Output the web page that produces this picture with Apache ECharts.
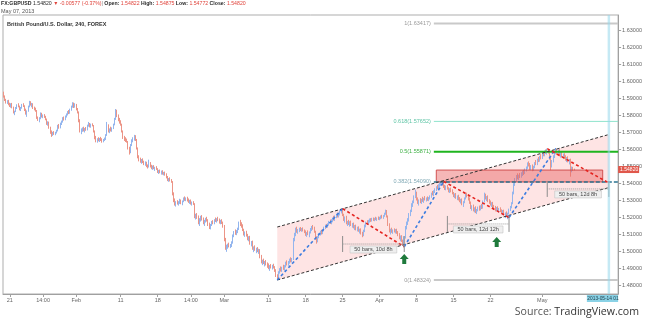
<!DOCTYPE html>
<html>
<head>
<meta charset="utf-8">
<script src="https://cdn.jsdelivr.net/npm/echarts@6/dist/echarts.min.js"></script>
<style>
  html, body { margin: 0; padding: 0; background: #fff; }
  #chart { width: 645px; height: 324px; }
</style>
</head>
<body>
<div id="chart"></div>
<script>
// GBPUSD 4h bars as [open, high, low, close], in 0.0001 steps above 1.0000 (5935 -> 1.5935)
const barsJan18 = [
  [5935,5940,5905,5912],[5912,5918,5885,5890],[5890,5898,5870,5878],[5878,5890,5868,5884],[5884,5892,5860,5866]
];
const barsJan21 = [
  [5866,5875,5850,5858],[5858,5872,5846,5868],[5868,5874,5842,5848],[5848,5852,5812,5818],[5818,5828,5802,5825],[5825,5850,5820,5846],
  [5846,5866,5838,5860],[5860,5872,5848,5852],[5852,5858,5830,5836],[5836,5850,5826,5845],[5845,5868,5840,5864],[5864,5872,5850,5855],
  [5855,5860,5826,5832],[5832,5840,5805,5812],[5812,5830,5792,5826],[5826,5858,5822,5852],[5852,5886,5848,5878],[5878,5884,5858,5864],
  [5864,5874,5848,5870],[5870,5872,5838,5844],[5844,5852,5830,5836],[5836,5846,5822,5828],[5828,5832,5780,5786],[5786,5794,5768,5775],
  [5775,5790,5760,5784],[5784,5818,5778,5810],[5810,5816,5788,5792],[5792,5806,5784,5800],[5800,5808,5786,5790],[5790,5798,5772,5778]
];
const barsJan28 = [
  [5778,5782,5745,5752],[5752,5766,5740,5758],[5758,5764,5722,5728],[5728,5734,5692,5700],[5700,5712,5674,5686],[5686,5704,5680,5698],
  [5698,5708,5686,5692],[5692,5704,5684,5700],[5700,5716,5694,5710],[5710,5745,5706,5738],[5738,5750,5722,5728],[5728,5758,5724,5752],
  [5752,5770,5744,5764],[5764,5790,5758,5782],[5782,5794,5770,5776],[5776,5800,5772,5795],[5795,5812,5788,5806],[5806,5826,5800,5820],
  [5820,5832,5808,5814],[5814,5840,5810,5834],[5834,5858,5828,5850],[5850,5878,5846,5870],[5870,5876,5844,5850],[5850,5872,5846,5862],
  [5862,5868,5830,5836],[5836,5844,5812,5818],[5818,5824,5760,5770],[5770,5778,5700,5712],[5712,5724,5690,5718],[5718,5730,5704,5722]
];
const barsFeb04 = [
  [5722,5734,5706,5712],[5712,5726,5700,5720],[5720,5732,5710,5716],[5716,5746,5712,5740],[5740,5762,5734,5748],[5748,5756,5730,5736],
  [5736,5752,5728,5746],[5746,5754,5736,5740],[5740,5744,5700,5706],[5706,5712,5660,5668],[5668,5680,5642,5650],[5650,5666,5640,5660],
  [5660,5672,5648,5654],[5654,5668,5644,5664],[5664,5674,5650,5656],[5656,5666,5640,5648],[5648,5662,5642,5658],[5658,5670,5650,5662],
  [5662,5690,5656,5684],[5684,5762,5680,5740],[5740,5748,5700,5708],[5708,5724,5696,5718],[5718,5734,5706,5712],[5712,5730,5704,5726],
  [5726,5752,5720,5746],[5746,5786,5742,5780],[5780,5838,5774,5826],[5826,5834,5790,5796],[5796,5806,5766,5772],[5772,5786,5752,5760]
];
const barsFeb11 = [
  [5760,5772,5740,5748],[5748,5752,5700,5706],[5706,5712,5662,5668],[5668,5680,5650,5664],[5664,5672,5644,5652],[5652,5664,5640,5646],
  [5646,5650,5600,5608],[5608,5616,5570,5584],[5584,5632,5578,5626],[5626,5660,5620,5654],[5654,5672,5642,5660],[5660,5686,5652,5676],
  [5676,5684,5650,5656],[5656,5662,5600,5606],[5606,5612,5548,5556],[5556,5566,5530,5540],[5540,5552,5522,5530],[5530,5544,5516,5536],
  [5536,5548,5520,5526],[5526,5534,5508,5514],[5514,5530,5504,5522],[5522,5528,5496,5504],[5504,5512,5488,5498],[5498,5540,5494,5520],
  [5520,5526,5494,5500],[5500,5510,5484,5492],[5492,5506,5480,5500],[5500,5508,5484,5488],[5488,5498,5474,5492],[5492,5502,5480,5484]
];
const barsFeb18 = [
  [5484,5490,5462,5470],[5470,5480,5456,5474],[5474,5482,5460,5464],[5464,5476,5452,5470],[5470,5478,5452,5458],[5458,5468,5448,5462],
  [5462,5470,5446,5452],[5452,5460,5430,5436],[5436,5444,5414,5420],[5420,5432,5410,5426],[5426,5436,5412,5418],[5418,5426,5404,5410],
  [5410,5414,5330,5340],[5340,5348,5290,5302],[5302,5312,5270,5280],[5280,5296,5264,5290],[5290,5302,5276,5284],[5284,5296,5270,5292],
  [5292,5310,5280,5300],[5300,5306,5278,5284],[5284,5300,5272,5296],[5296,5318,5290,5312],[5312,5324,5298,5304],[5304,5318,5296,5314],
  [5314,5322,5294,5300],[5300,5312,5286,5292],[5292,5304,5280,5298],[5298,5306,5276,5282],[5282,5294,5270,5288],[5288,5296,5274,5280]
];
const barsFeb25 = [
  [5280,5284,5196,5206],[5206,5222,5188,5214],[5214,5226,5192,5198],[5198,5212,5160,5170],[5170,5196,5150,5190],[5190,5210,5176,5202],
  [5202,5214,5182,5188],[5188,5200,5160,5166],[5166,5186,5150,5180],[5180,5198,5170,5194],[5194,5204,5176,5182],[5182,5190,5150,5156],
  [5156,5170,5132,5140],[5140,5162,5130,5158],[5158,5180,5150,5174],[5174,5184,5160,5166],[5166,5190,5160,5186],[5186,5200,5174,5180],
  [5180,5196,5170,5192],[5192,5204,5178,5184],[5184,5194,5164,5172],[5172,5186,5160,5180],[5180,5190,5162,5168],[5168,5176,5140,5150],
  [5150,5156,5060,5072],[5072,5080,5010,5024],[5024,5040,4998,5034],[5034,5046,5016,5040],[5040,5052,5024,5030],[5030,5044,5020,5036]
];
const barsMar04 = [
  [5036,5060,5026,5052],[5052,5100,5046,5094],[5094,5120,5084,5110],[5110,5130,5098,5104],[5104,5126,5096,5120],[5120,5140,5108,5132],
  [5132,5176,5126,5164],[5164,5186,5150,5158],[5158,5172,5140,5146],[5146,5160,5120,5126],[5126,5134,5094,5100],[5100,5118,5086,5110],
  [5110,5122,5088,5094],[5094,5104,5066,5072],[5072,5090,5060,5084],[5084,5092,5040,5046],[5046,5062,5030,5056],[5056,5064,5010,5018],
  [5018,5030,4996,5024],[5024,5036,5004,5010],[5010,5022,4990,5014],[5014,5026,4996,5002],[5002,5016,4986,5008],[5008,5014,4960,4968],
  [4968,4980,4930,4940],[4940,4952,4920,4946],[4946,4958,4926,4932],[4932,4944,4912,4938],[4938,4950,4918,4924],[4924,4936,4904,4918]
];
const barsMar11 = [
  [4918,4930,4896,4904],[4904,4920,4886,4914],[4914,4926,4900,4908],[4908,4922,4894,4916],[4916,4928,4900,4906],[4906,4914,4880,4888],
  [4888,4896,4850,4858],[4858,4866,4832.4,4846],[4846,4884,4840,4878],[4878,4902,4870,4896],[4896,4912,4882,4890],[4890,4910,4880,4904],
  [4904,4922,4892,4898],[4898,4920,4888,4914],[4914,4940,4906,4932],[4932,4948,4918,4926],[4926,4944,4916,4940],[4940,4958,4928,4950],
  [4950,4966,4936,4944],[4944,4962,4936,4956],[4956,5080,4950,5068],[5068,5110,5060,5098],[5098,5140,5090,5126],[5126,5146,5110,5118],
  [5118,5132,5104,5126],[5126,5140,5114,5132],[5132,5144,5120,5124],[5124,5138,5116,5134],[5134,5142,5118,5122],[5122,5130,5108,5116]
];
const barsMar18 = [
  [5116,5124,5092,5098],[5098,5114,5086,5108],[5108,5124,5096,5102],[5102,5118,5084,5112],[5112,5138,5106,5132],[5132,5150,5120,5142],
  [5142,5156,5128,5134],[5134,5146,5110,5116],[5116,5122,5070,5078],[5078,5090,5046,5060],[5060,5092,5054,5086],[5086,5108,5078,5102],
  [5102,5122,5094,5116],[5116,5128,5100,5108],[5108,5130,5102,5124],[5124,5146,5118,5140],[5140,5158,5132,5150],[5150,5162,5138,5144],
  [5144,5166,5140,5160],[5160,5180,5152,5174],[5174,5188,5162,5168],[5168,5190,5160,5184],[5184,5200,5172,5194],[5194,5210,5182,5188],
  [5188,5212,5180,5206],[5206,5222,5196,5214],[5214,5228,5200,5208],[5208,5226,5200,5220],[5220,5242,5212,5236],[5236,5246,5224,5240]
];
const barsMar25 = [
  [5240,5252,5208,5214],[5214,5222,5180,5188],[5188,5206,5170,5198],[5198,5210,5160,5166],[5166,5180,5150,5172],[5172,5186,5156,5160],
  [5160,5178,5146,5170],[5170,5182,5150,5156],[5156,5168,5140,5162],[5162,5170,5136,5142],[5142,5156,5126,5150],[5150,5158,5124,5130],
  [5130,5146,5118,5138],[5138,5148,5116,5122],[5122,5134,5106,5128],[5128,5136,5100,5108],[5108,5116,5084,5094],[5094,5128,5090,5120],
  [5120,5158,5114,5150],[5150,5176,5142,5170],[5170,5184,5158,5164],[5164,5186,5160,5180],[5180,5194,5170,5186],[5186,5196,5174,5180],
  [5180,5198,5176,5192],[5192,5200,5180,5186],[5186,5198,5178,5194],[5194,5204,5184,5188],[5188,5200,5180,5196],[5196,5206,5186,5190]
];
const barsApr01 = [
  [5190,5204,5184,5198],[5198,5212,5190,5206],[5206,5216,5194,5200],[5200,5214,5192,5210],[5210,5228,5204,5222],[5222,5246,5216,5238],
  [5238,5244,5200,5206],[5206,5212,5150,5158],[5158,5166,5112,5120],[5120,5134,5100,5128],[5128,5140,5110,5116],[5116,5130,5104,5124],
  [5124,5136,5112,5118],[5118,5132,5106,5126],[5126,5134,5104,5110],[5110,5120,5090,5096],[5096,5108,5072,5080],[5080,5094,5060,5088],
  [5088,5096,5056,5062],[5062,5070,5034,5044],[5044,5090,5028,5082],[5082,5150,5076,5140],[5140,5176,5130,5168],[5168,5196,5156,5184],
  [5184,5226,5176,5218],[5218,5246,5208,5240],[5240,5284,5232,5276],[5276,5300,5262,5292],[5292,5330,5284,5322],[5322,5364,5314,5340]
];
const barsApr08 = [
  [5340,5352,5300,5306],[5306,5318,5280,5288],[5288,5306,5270,5298],[5298,5314,5284,5290],[5290,5310,5280,5304],[5304,5322,5292,5298],
  [5298,5316,5286,5310],[5310,5326,5300,5306],[5306,5318,5294,5312],[5312,5324,5298,5304],[5304,5320,5296,5316],[5316,5330,5306,5324],
  [5324,5346,5316,5340],[5340,5356,5330,5334],[5334,5360,5326,5354],[5354,5372,5344,5366],[5366,5384,5356,5378],[5378,5392,5366,5372],
  [5372,5396,5366,5390],[5390,5404,5380,5396],[5396,5406,5386,5400],[5400,5408,5388,5398],[5398,5412,5374,5380],[5380,5392,5362,5370],
  [5370,5388,5360,5382],[5382,5392,5364,5368],[5368,5378,5348,5356],[5356,5372,5344,5364],[5364,5376,5348,5352],[5352,5366,5336,5344]
];
const barsApr15 = [
  [5344,5350,5320,5326],[5326,5342,5314,5336],[5336,5344,5310,5318],[5318,5330,5302,5324],[5324,5334,5300,5308],[5308,5320,5290,5296],
  [5296,5310,5282,5302],[5302,5312,5272,5280],[5280,5296,5262,5290],[5290,5318,5284,5312],[5312,5340,5306,5332],[5332,5346,5318,5324],
  [5324,5336,5300,5306],[5306,5318,5280,5286],[5286,5294,5250,5258],[5258,5272,5240,5266],[5266,5276,5236,5244],[5244,5260,5230,5252],
  [5252,5266,5226,5234],[5234,5250,5220,5244],[5244,5264,5236,5258],[5258,5270,5240,5248],[5248,5272,5242,5266],[5266,5280,5250,5258],
  [5258,5300,5252,5294],[5294,5346,5288,5330],[5330,5340,5306,5312],[5312,5326,5296,5320],[5320,5330,5290,5296],[5296,5308,5280,5288]
];
const barsApr22 = [
  [5288,5300,5270,5276],[5276,5290,5262,5284],[5284,5292,5256,5262],[5262,5274,5244,5256],[5256,5268,5236,5244],[5244,5262,5238,5254],
  [5254,5266,5236,5242],[5242,5256,5228,5250],[5250,5260,5232,5238],[5238,5248,5220,5230],[5230,5244,5214,5238],[5238,5246,5212,5218],
  [5218,5230,5196,5222],[5222,5236,5204,5210],[5210,5228,5190,5224],[5224,5252,5218,5246],[5246,5268,5238,5262],[5262,5290,5254,5284],
  [5284,5352,5278,5344],[5344,5402,5336,5394],[5394,5432,5386,5424],[5424,5450,5410,5440],[5440,5460,5424,5432],[5432,5452,5420,5446],
  [5446,5462,5432,5440],[5440,5466,5434,5458],[5458,5476,5444,5468],[5468,5480,5450,5462],[5462,5488,5456,5482],[5482,5500,5470,5494]
];
const barsApr29 = [
  [5494,5524,5486,5516],[5516,5530,5500,5506],[5506,5520,5480,5490],[5490,5508,5478,5500],[5500,5512,5472,5482],[5482,5504,5474,5498],
  [5498,5526,5490,5520],[5520,5538,5508,5514],[5514,5546,5508,5540],[5540,5556,5526,5534],[5534,5562,5528,5556],[5556,5572,5542,5550],
  [5550,5580,5544,5574],[5574,5590,5560,5566],[5566,5594,5560,5588],[5588,5600,5574,5582],[5582,5605,5570,5590],[5590,5600,5576,5580],
  [5580,5586,5540,5546],[5546,5556,5478,5500],[5500,5538,5494,5530],[5530,5566,5524,5558],[5558,5590,5550,5584],[5584,5606,5572,5596],
  [5596,5604,5570,5576],[5576,5600,5568,5592],[5592,5602,5560,5568],[5568,5584,5552,5578],[5578,5590,5556,5562],[5562,5576,5548,5570]
];
const barsMay06 = [
  [5570,5578,5544,5552],[5552,5566,5534,5540],[5540,5556,5526,5548],[5548,5560,5524,5530],[5530,5544,5512,5538],[5538,5546,5440,5478],
  [5478,5500,5466,5492],[5492,5498,5474,5482.2],[5482.2,5487.5,5477.2,5482.0]
];

// Session layout: 4h bars stamped 02:00 ... 22:00, weekdays only
const BAR_HOURS = [2, 6, 10, 14, 18, 22];
const FIRST_BAR = '2013-01-18 06:00';
const LAST_SLOT = '2013-05-15 06:00';
const prevDayClose = 1.55397;

// Bottom axis labels
const xTickLabels = [
  ['2013-01-21 02:00', '21'], ['2013-01-25 14:00', '14:00'], ['2013-02-01 02:00', 'Feb'],
  ['2013-02-11 02:00', '11'], ['2013-02-18 02:00', '18'], ['2013-02-22 14:00', '14:00'],
  ['2013-03-01 02:00', 'Mar'], ['2013-03-11 02:00', '11'], ['2013-03-18 02:00', '18'],
  ['2013-03-25 02:00', '25'], ['2013-04-01 02:00', 'Apr'], ['2013-04-08 02:00', '8'],
  ['2013-04-15 02:00', '15'], ['2013-04-22 02:00', '22'], ['2013-05-01 02:00', 'May']
];
// Price scale labels
const yTicks = [1.48, 1.49, 1.50, 1.51, 1.52, 1.53, 1.54, 1.55, 1.56, 1.57, 1.58, 1.59, 1.60, 1.61, 1.62, 1.63];

// Drawings
const channelLower = [['2013-03-12 06:00', 1.48324], ['2013-05-14 02:00', 1.5376]];
const channelUpper = [['2013-03-12 06:00', 1.5144], ['2013-05-14 02:00', 1.5688]];
const swingLegs = [
  { from: ['2013-03-12 06:00', 1.48324], to: ['2013-03-25 02:00', 1.5252], up: true },
  { from: ['2013-03-25 02:00', 1.5252], to: ['2013-04-04 10:00', 1.5028], up: false },
  { from: ['2013-04-04 10:00', 1.5028], to: ['2013-04-11 18:00', 1.5412], up: true },
  { from: ['2013-04-11 18:00', 1.5412], to: ['2013-04-24 14:00', 1.5200], up: false },
  { from: ['2013-04-24 14:00', 1.5200], to: ['2013-05-02 22:00', 1.5606], up: true },
  { from: ['2013-05-01 18:00', 1.5605], to: ['2013-05-14 02:00', 1.5403], up: false }
];
const barMeasures = [
  { from: '2013-03-25 02:00', to: '2013-04-04 10:00', price: 1.5044, text: '50 bars, 10d 8h' },
  { from: '2013-04-12 06:00', to: '2013-04-24 14:00', price: 1.5162, text: '50 bars, 12d 12h' },
  { from: '2013-05-01 18:00', to: '2013-05-14 02:00', price: 1.5368, text: '50 bars, 12d 8h' }
];
const fibStart = '2013-04-10 10:00';
const fibLevels = [['1', 1.63417], ['0.618', 1.57652], ['0.5', 1.55871], ['0.382', 1.54090], ['0', 1.48324]];
const resistanceZone = { from: '2013-04-10 18:00', to: '2013-05-13 06:00', top: 1.5479, bottom: 1.5409 };
const buySignals = [['2013-04-04 10:00', 1.4985], ['2013-04-22 22:00', 1.5085]];
const cursorTime = '2013-05-14 02:00';
const cursorText = '2013-05-14 01:00';

const FONT = '"Liberation Sans", Arial, sans-serif';

// ---- build categories ----
function pad(n) { return (n < 10 ? '0' : '') + n; }
function buildSlots() {
  const out = [];
  const d = new Date(Date.UTC(2013, 0, 18));
  const end = Date.UTC(2013, 4, 15);
  while (d.getTime() <= end) {
    const wd = d.getUTCDay();
    if (wd !== 0 && wd !== 6) {
      const day = d.getUTCFullYear() + '-' + pad(d.getUTCMonth() + 1) + '-' + pad(d.getUTCDate());
      BAR_HOURS.forEach(h => out.push(day + ' ' + pad(h) + ':00'));
    }
    d.setUTCDate(d.getUTCDate() + 1);
  }
  return out.slice(out.indexOf(FIRST_BAR), out.indexOf(LAST_SLOT) + 1);
}
const categories = buildSlots();
const catIndex = {};
categories.forEach((c, i) => { catIndex[c] = i; });

const bars = [].concat(barsJan18, barsJan21, barsJan28, barsFeb04, barsFeb11, barsFeb18, barsFeb25,
  barsMar04, barsMar11, barsMar18, barsMar25, barsApr01, barsApr08, barsApr15, barsApr22, barsApr29, barsMay06);
const px = v => +(1 + v / 10000).toFixed(5);
// ECharts order: [open, close, low, high]
const candleData = bars.map(b => [px(b[0]), px(b[3]), px(b[2]), px(b[1])]);
const lastBar = bars[bars.length - 1];
const lastTime = categories[bars.length - 1];
const lastClose = px(lastBar[3]);

const labelMap = {};
xTickLabels.forEach(([t, s]) => { labelMap[t] = s; });
const showTick = (idx, val) => labelMap[val] !== undefined;

// ---- drawing helpers ----
function seg(a, b, stroke, w, dash) {
  return { type: 'line', silent: true,
    shape: { x1: a[0], y1: a[1], x2: b[0], y2: b[1] },
    style: { stroke: stroke, lineWidth: w, lineDash: dash || null } };
}
function txt(x, y, s, fill, align, font) {
  return { type: 'text', silent: true, x: x, y: y,
    style: { text: s, fill: fill, align: align, verticalAlign: 'middle', font: font } };
}

function drawChannelFill(params, api) {
  const at = (q) => api.coord([catIndex[q[0]], q[1]]);
  const pts = [at(channelLower[0]), at(channelLower[1]), at(channelUpper[1]), at(channelUpper[0])];
  return { type: 'polygon', silent: true, shape: { points: pts },
    style: { fill: 'rgba(250,120,120,0.2)' } };
}

function drawOverlay(params, api) {
  const box = params.coordSys;
  const right = box.x + box.width;
  const at = (t, p) => api.coord([catIndex[t], p]);
  const kids = [];
  const small = '5.5px ' + FONT;

  // resistance zone
  const z0 = at(resistanceZone.from, resistanceZone.top);
  const z1 = at(resistanceZone.to, resistanceZone.bottom);
  kids.push({ type: 'rect', silent: true,
    shape: { x: z0[0], y: z0[1], width: z1[0] - z0[0], height: z1[1] - z0[1] },
    style: { fill: 'rgba(232,95,95,0.45)', stroke: 'rgba(205,70,70,0.9)', lineWidth: 1 } });

  // fibonacci levels
  const fibColors = {
    '1': ['#c9c9c9', 2, null, '#9a9a9a'],
    '0.618': ['#8fe3cc', 1, null, '#5cc4a4'],
    '0.5': ['#1fb51f', 2, null, '#3cb043'],
    '0.382': ['#2b7390', 1.6, [4, 2], '#7fa8b4'],
    '0': ['#c9c9c9', 2, null, '#9a9a9a']
  };
  fibLevels.forEach(([r, p]) => {
    const a = at(fibStart, p);
    const c = fibColors[r];
    kids.push(seg([a[0], a[1]], [right, a[1]], c[0], c[1], c[2]));
    kids.push(txt(a[0] - 3, a[1], r + '(' + p.toFixed(5) + ')', c[3], 'right', small));
  });

  // channel borders
  kids.push(seg(at(...channelLower[0]), at(...channelLower[1]), '#333', 1, [3, 2]));
  kids.push(seg(at(...channelUpper[0]), at(...channelUpper[1]), '#333', 1, [3, 2]));

  // swing legs
  swingLegs.forEach(l => {
    kids.push(seg(at(...l.from), at(...l.to), l.up ? '#3d7de0' : '#e4231f', 1.6, [3, 2.5]));
  });

  // bar-count measurements
  barMeasures.forEach(m => {
    const a = at(m.from, m.price), b = at(m.to, m.price);
    kids.push(seg([a[0], a[1] - 8], [a[0], a[1] + 8], '#8c8c8c', 1));
    kids.push(seg([b[0], b[1] - 8], [b[0], b[1] + 8], '#8c8c8c', 1));
    kids.push(seg(a, b, '#9a9a9a', 1, [1, 1]));
    const mid = (a[0] + b[0]) / 2;
    const w = m.text.length * 2.85 + 4;
    kids.push({ type: 'rect', silent: true,
      shape: { x: mid - w / 2, y: a[1] + 2, width: w, height: 7 },
      style: { fill: '#efefef', stroke: '#c4c4c4', lineWidth: 0.6 } });
    kids.push(txt(mid, a[1] + 5.6, m.text, '#444', 'center', small));
  });

  // buy signal arrows
  buySignals.forEach(([t, p]) => {
    const c = at(t, p);
    const x = c[0], y = c[1];
    kids.push({ type: 'polygon', silent: true,
      shape: { points: [[x, y], [x - 4.5, y + 5], [x - 2, y + 5], [x - 2, y + 10], [x + 2, y + 10], [x + 2, y + 5], [x + 4.5, y + 5]] },
      style: { fill: '#1f7a3c' } });
  });

  // cursor line and its time box
  const cx = at(cursorTime, 1.5)[0];
  kids.push(seg([cx, box.y], [cx, box.y + box.height], 'rgba(150,215,235,0.55)', 2.5));
  kids.push({ type: 'rect', silent: true,
    shape: { x: cx - 22, y: box.y + box.height + 1, width: right - cx + 22, height: 7 },
    style: { fill: '#8ad2e6' } });
  kids.push({ type: 'text', silent: true, x: cx - 21.5, y: box.y + box.height + 4.6,
    style: { text: cursorText, fill: '#1d3c48', font: '4.8px ' + FONT, verticalAlign: 'middle',
      width: right - cx + 23, overflow: 'truncate', ellipsis: '' } });

  // last price tag on the scale
  const ly = at(lastTime, lastClose)[1];
  kids.push({ type: 'rect', silent: true,
    shape: { x: right, y: ly - 3.5, width: 21, height: 7 },
    style: { fill: '#e0574b' } });
  kids.push(txt(right + 2, ly, lastClose.toFixed(5), '#fff', 'left', '5px ' + FONT));

  return { type: 'group', children: kids };
}

const chart = echarts.init(document.getElementById('chart'), null, { renderer: 'canvas' });

const headerRich = {
  k: { fontWeight: 'bold', fill: '#2a2a2a', fontSize: 5.2, fontFamily: FONT },
  v: { fill: '#2a2a2a', fontSize: 5.2, fontFamily: FONT },
  r: { fill: '#e0443c', fontSize: 5.2, fontFamily: FONT },
  g: { fill: '#777', fontSize: 5.2, fontFamily: FONT }
};
const chg = lastClose - prevDayClose;
const headerText =
  '{k|FX:GBPUSD} {v|' + lastClose.toFixed(5) + '} {r|▼} {r|' + chg.toFixed(5) + ' (' + (chg / prevDayClose * 100).toFixed(2) + '%)}' +
  '{g|| }{k|Open:} {r|' + px(lastBar[0]).toFixed(5) + '} {k|High:} {r|' + px(lastBar[1]).toFixed(5) +
  '} {k|Low:} {r|' + px(lastBar[2]).toFixed(5) + '} {k|Close:} {r|' + px(lastBar[3]).toFixed(5) + '}';

chart.setOption({
  animation: false,
  backgroundColor: '#fff',
  grid: { left: 3, right: 22, top: 15, bottom: 30, show: true, borderColor: '#adadad', borderWidth: 1 },
  xAxis: {
    type: 'category',
    data: categories,
    boundaryGap: true,
    axisLine: { lineStyle: { color: '#a0a0a0', width: 1 } },
    axisTick: { show: true, interval: showTick, alignWithLabel: true, length: 3, lineStyle: { color: '#a0a0a0' } },
    axisLabel: { interval: showTick, formatter: v => labelMap[v] || '', color: '#666', fontSize: 5.5, fontFamily: FONT, margin: 3 },
    splitLine: { show: false }
  },
  yAxis: {
    type: 'value',
    position: 'right',
    min: 1.475,
    max: 1.6391,
    axisLine: { show: true, lineStyle: { color: '#a0a0a0' } },
    axisTick: { show: true, length: 3, customValues: yTicks, lineStyle: { color: '#a0a0a0' } },
    axisLabel: { customValues: yTicks, formatter: v => v.toFixed(5), color: '#666', fontSize: 5.5, fontFamily: FONT, margin: 4 },
    splitLine: { show: false }
  },
  graphic: [
    { type: 'text', left: 1, top: 1, style: { text: headerText, rich: headerRich, font: '5.2px ' + FONT } },
    { type: 'text', left: 1, top: 8, style: { text: 'May 07, 2013', fill: '#555', font: '5.5px ' + FONT } },
    { type: 'text', left: 7, top: 21, style: { text: 'British Pound/U.S. Dollar, 240, FOREX', fill: '#333', font: 'bold 5.5px ' + FONT } },
    { type: 'text', right: 6, top: 306, style: {
      text: '{a|Source: }{b|TradingView.com}',
      rich: {
        a: { fill: '#555', fontSize: 10.6, fontFamily: '"Open Sans", sans-serif' },
        b: { fill: '#333', fontSize: 10.6, fontFamily: '"Open Sans", sans-serif' }
      } } }
  ],
  series: [
    { type: 'custom', z: 1, silent: true, renderItem: drawChannelFill, data: [[0, 1.5]] },
    {
      type: 'candlestick', z: 2, data: candleData, barWidth: 0.4, silent: true,
      itemStyle: { color: '#93b5ee', color0: '#ec9486', borderColor: '#93b5ee', borderColor0: '#ec9486', borderWidth: 1 }
    },
    { type: 'custom', z: 3, silent: true, clip: false, renderItem: drawOverlay, data: [[0, 1.5]] }
  ]
});
</script>
</body>
</html>
